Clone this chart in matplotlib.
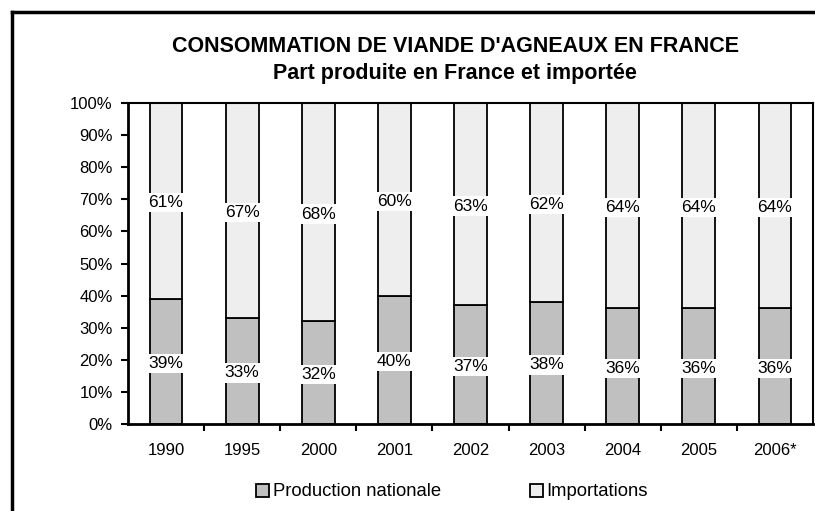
import matplotlib.pyplot as plt
from matplotlib.lines import Line2D
from matplotlib.patches import Patch

years = ["1990", "1995", "2000", "2001", "2002", "2003", "2004", "2005", "2006*"]
production = [39, 33, 32, 40, 37, 38, 36, 36, 36]
imports = [61, 67, 68, 60, 63, 62, 64, 64, 64]
yticks = [0, 10, 20, 30, 40, 50, 60, 70, 80, 90, 100]

plt.rcParams['font.family'] = ['Liberation Sans', 'DejaVu Sans']

fig = plt.figure(figsize=(8.15, 5.11), dpi=100)
ax = fig.add_axes([128 / 815, 87 / 511, 685 / 815, 321 / 511])

x = list(range(len(years)))
w = 0.43
ax.bar(x, production, width=w, color='#c0c0c0', edgecolor='black', linewidth=1.3)
ax.bar(x, imports, width=w, bottom=production, color='#eeeeee', edgecolor='black', linewidth=1.3)

box = dict(facecolor='white', edgecolor='none', pad=1.5)
for i in x:
    ax.text(i, production[i] / 2 - 0.6, f"{production[i]}%", ha='center', va='center',
            fontsize=12.5, bbox=box)
    ax.text(i, production[i] + imports[i] / 2 - 0.6, f"{imports[i]}%", ha='center', va='center',
            fontsize=12.5, bbox=box)

ax.set_xlim(-0.5, len(years) - 0.5)
ax.set_ylim(0, 100)
ax.set_yticks(yticks)
ax.set_yticklabels([f"{v}%" for v in yticks], fontsize=12)
ax.set_xticks(x)
ax.set_xticklabels(years, fontsize=12)
ax.tick_params(axis='x', length=0, pad=14)
ax.set_xticks([i + 0.5 for i in x[:-1]], minor=True)
ax.tick_params(axis='x', which='minor', length=5, width=1.5, direction='out')
ax.tick_params(axis='y', length=5, width=1.5, direction='out', pad=6)
for s in ax.spines.values():
    s.set_linewidth(1.5)
ax.spines['left'].set_linewidth(2)
ax.spines['bottom'].set_linewidth(2)

fig.text(455 / 815, 1 - 46 / 511, "CONSOMMATION DE VIANDE D'AGNEAUX EN FRANCE",
         ha='center', va='center', fontsize=15.5, fontweight='bold')
fig.text(455 / 815, 1 - 73 / 511, "Part produite en France et importée",
         ha='center', va='center', fontsize=15.5, fontweight='bold')

handles = [Patch(facecolor='#c0c0c0', edgecolor='black', linewidth=1.3),
           Patch(facecolor='#eeeeee', edgecolor='black', linewidth=1.3)]
fig.legend(handles, ["Production nationale", "Importations"], loc='center',
           bbox_to_anchor=(452 / 815, 1 - 492 / 511), ncol=2, frameon=False,
           fontsize=13.3, handlelength=0.7, handleheight=0.7, handletextpad=0.2,
           columnspacing=4.8)

# outer frame (only left and top visible)
fx, fy = 12 / 815, 1 - 12 / 511
fig.add_artist(Line2D([fx, fx], [0, fy], color='black', linewidth=2.5))
fig.add_artist(Line2D([fx, 1], [fy, fy], color='black', linewidth=2.5))

fig.savefig("out.png", dpi=100)
